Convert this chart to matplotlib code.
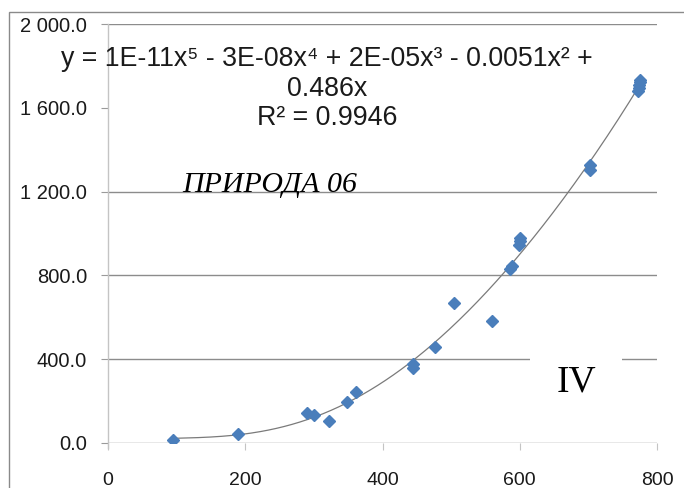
import numpy as np
import matplotlib
matplotlib.use("Agg")
import matplotlib.pyplot as plt
from matplotlib.patches import Rectangle
from matplotlib.ticker import FuncFormatter

# Measured points
x_vals = [95, 189, 290, 300, 322, 348, 362, 444, 445, 477, 504, 559,
          586, 588, 599, 600, 601, 702, 703, 773, 774, 774, 775, 775]
y_vals = [12, 41, 141, 133, 106, 197, 244, 360, 375, 456, 668, 582,
          830, 845, 945, 965, 978, 1305, 1325, 1678, 1695, 1710, 1722, 1735]

x_ticks = [0, 200, 400, 600, 800]
y_ticks = [0, 400, 800, 1200, 1600, 2000]

equation_lines = ["y = 1E-11x\u2075 - 3E-08x\u2074 + 2E-05x\u00b3 - 0.0051x\u00b2 +",
                  "0.486x",
                  "R\u00b2 = 0.9946"]
label_main = "ПРИРОДА 06"
label_zone = "IV"

sans = ["Liberation Sans", "DejaVu Sans"]
serif = ["Liberation Serif", "DejaVu Serif"]

# 5th order polynomial trend through the origin
x = np.array(x_vals, dtype=float)
y = np.array(y_vals, dtype=float)
t = x / 1000.0
A = np.column_stack([t ** k for k in range(1, 6)])
coef, *_ = np.linalg.lstsq(A, y, rcond=None)
xs = np.linspace(x.min(), x.max(), 300)
ts = xs / 1000.0
ys = sum(c * ts ** k for k, c in zip(range(1, 6), coef))

W, H = 684, 488
fig = plt.figure(figsize=(W / 100, H / 100), dpi=100)
ax = fig.add_axes([108 / W, 45 / H, 549 / W, 419 / H])

# outer chart border (right and bottom edges run off the page)
fig.patches.append(Rectangle((9 / W, -0.2), 1.5, 1.2 - 12 / H,
                             transform=fig.transFigure, fill=False,
                             edgecolor="#8a8a8a", linewidth=1.0))

ax.set_xlim(0, 800)
ax.set_ylim(0, 2000)
ax.set_xticks(x_ticks)
ax.set_yticks(y_ticks)
ax.yaxis.set_major_formatter(FuncFormatter(lambda v, p: f"{v:,.1f}".replace(",", " ")))

ax.set_axisbelow(True)
ax.grid(axis="y", color="#8c8c8c", linewidth=1.0)
ax.grid(axis="x", visible=False)

for side in ["top", "right", "bottom"]:
    ax.spines[side].set_visible(False)
ax.spines["left"].set_color("#c4c4c4")
ax.spines["left"].set_linewidth(1.0)
ax.spines["left"].set_bounds(-25, 2000)

ax.tick_params(axis="y", length=5, color="#9a9a9a", pad=10, labelsize=14.5)
ax.tick_params(axis="x", length=5, color="#c4c4c4", pad=16, labelsize=14)
for lab in ax.get_xticklabels() + ax.get_yticklabels():
    lab.set_family(sans)
    lab.set_color("#1a1a1a")

# white box behind the trend equation
ax.add_patch(Rectangle((0, 0.74), 1, 0.19, transform=ax.transAxes,
                       facecolor="white", edgecolor="none", zorder=1))

ax.plot(xs, ys, color="#7a7a7a", linewidth=0.9, zorder=2)
ax.plot(x, y, linestyle="none", marker="D", markersize=6.2,
        color="#4a7ebb", markeredgecolor="#4a7ebb", zorder=3)

# trend equation, one text per line
for line, ypx in zip(equation_lines, [59, 89, 118]):
    fig.text(327 / W, 1 - ypx / H, line, ha="center", va="center",
             fontsize=19.3, family=sans, color="#1a1a1a")

fig.text(270 / W, 1 - 192 / H, label_main, ha="center", va="baseline",
         fontsize=21.5, family=serif, style="italic", color="black")
fig.text(576 / W, 1 - 392 / H, label_zone, ha="center", va="baseline",
         fontsize=27, family=serif, color="black",
         bbox=dict(boxstyle="square,pad=0.7", facecolor="white", edgecolor="none"))

fig.savefig("out.png", dpi=100)
